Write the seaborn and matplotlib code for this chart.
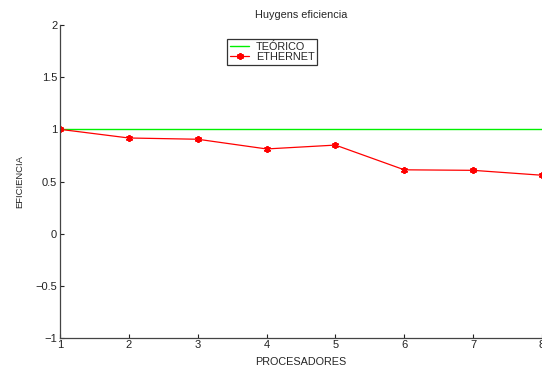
import matplotlib
matplotlib.use("Agg")
import matplotlib.pyplot as plt
import seaborn as sns
import pandas as pd

procesadores = [1, 2, 3, 4, 5, 6, 7, 8]
teorico = [1, 1, 1, 1, 1, 1, 1, 1]
ethernet = [1.0, 0.917, 0.905, 0.812, 0.849, 0.612, 0.607, 0.56]
y_ticks = [-1, -0.5, 0, 0.5, 1, 1.5, 2]
x_ticks = [1, 2, 3, 4, 5, 6, 7, 8]

sns.set_style("ticks")
plt.rcParams["font.family"] = ["Liberation Sans", "DejaVu Sans"]
plt.rcParams["xtick.direction"] = "in"
plt.rcParams["ytick.direction"] = "in"

df = pd.DataFrame({"p": procesadores, "t": teorico, "e": ethernet})

fig = plt.figure(figsize=(5.42, 3.68), dpi=100)
ax = fig.add_axes([60 / 542, 1 - 338 / 368, 482 / 542, 313 / 368])

sns.lineplot(data=df, x="p", y="t", ax=ax, color="#00f000", linewidth=1.0,
             label="TEÓRICO")
sns.lineplot(data=df, x="p", y="e", ax=ax, color="#ff0000", linewidth=0.9,
             marker=(6, 2, 0), markersize=5, markeredgewidth=1.3,
             markeredgecolor="#ff0000", label="ETHERNET")

ax.set_xlim(1, 8)
ax.set_ylim(-1, 2)
ax.set_xticks(x_ticks)
ax.set_yticks(y_ticks)
ax.set_yticklabels(["\u22121", "\u22120.5", "0", "0.5", "1", "1.5", "2"])
ax.tick_params(labelsize=8, length=3, width=0.8, colors="#222222", pad=2)
ax.tick_params(axis="x", pad=1.5)

for s in ["top", "right"]:
    ax.spines[s].set_visible(False)
for s in ["left", "bottom"]:
    ax.spines[s].set_color("#444444")
    ax.spines[s].set_linewidth(0.9)

ax.set_title("Huygens eficiencia", fontsize=7.8, pad=5)
ax.set_xlabel("PROCESADORES", fontsize=7.8, labelpad=5)
ax.set_ylabel("EFICIENCIA", fontsize=6.8, labelpad=8)

leg = ax.legend(loc="upper left", bbox_to_anchor=(0.347, 0.955), fontsize=7.8,
                frameon=True, fancybox=False, borderpad=0.25, labelspacing=0.02,
                handlelength=1.8, handletextpad=0.6, borderaxespad=0)
leg.get_frame().set_edgecolor("black")
leg.get_frame().set_linewidth(0.9)

fig.savefig("out.png", dpi=100)
